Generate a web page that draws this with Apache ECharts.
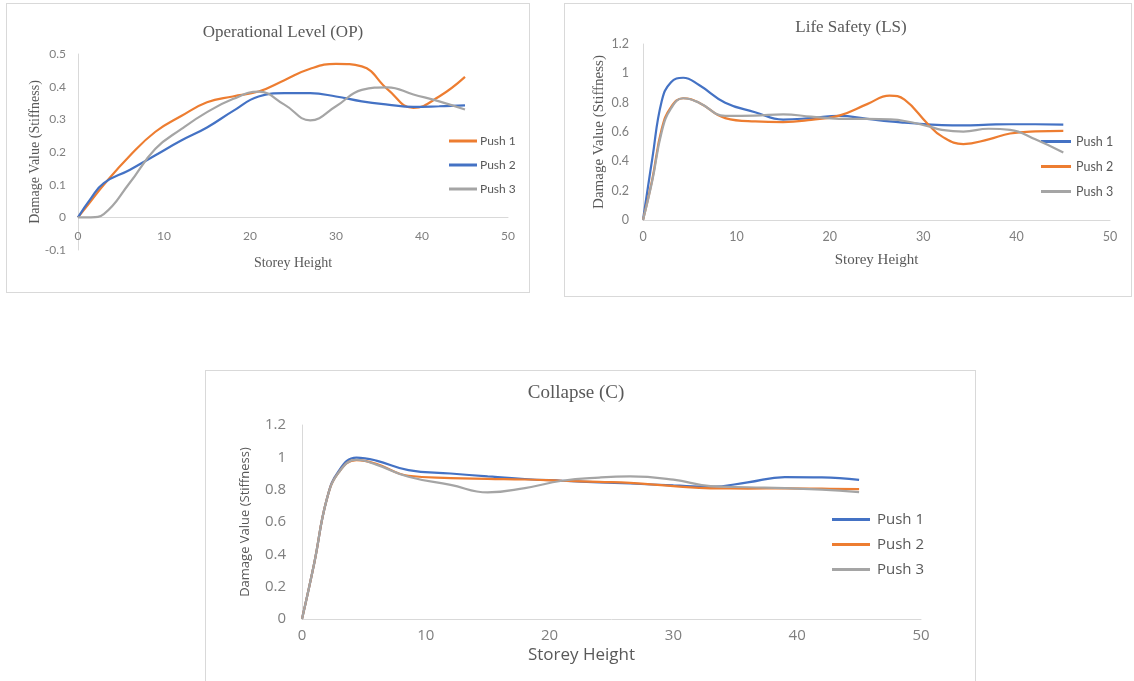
<!DOCTYPE html>
<html>
<head>
<meta charset="utf-8">
<script src="https://cdn.jsdelivr.net/npm/echarts@6/dist/echarts.min.js"></script>
<style>
  html, body { margin: 0; padding: 0; background: #ffffff; }
  body { width: 1134px; height: 681px; position: relative; overflow: hidden; }
  .panel { position: absolute; border: 1px solid #d9d9d9; background: #fff; box-sizing: border-box; }
</style>
</head>
<body>
<div id="op" class="panel" style="left:6px;top:3px;width:524px;height:290px;"></div>
<div id="ls" class="panel" style="left:564px;top:3px;width:568px;height:294px;"></div>
<div id="cl" class="panel" style="left:205px;top:370px;width:771px;height:330px;"></div>
<script>
// Storey heights (m) and damage values per pushover run
const seriesNames = ['Push 1', 'Push 2', 'Push 3'];

// Operational Level (OP)
const opHeight = [0, 1.5, 3, 6, 9, 12, 15, 18, 21, 24, 27, 30, 33, 36, 39, 42, 45];
const opPush1 = [0, 0.05, 0.1, 0.188, 0.262, 0.31, 0.352, 0.37, 0.385, 0.42, 0.455, 0.47, 0.462, 0.392, 0.335, 0.37, 0.43];
const opPush2 = [0, 0.058, 0.105, 0.145, 0.19, 0.235, 0.275, 0.325, 0.37, 0.38, 0.38, 0.37, 0.355, 0.345, 0.338, 0.34, 0.343];
const opPush3 = [0, 0, 0.01, 0.105, 0.21, 0.27, 0.322, 0.362, 0.385, 0.345, 0.297, 0.34, 0.39, 0.398, 0.376, 0.355, 0.33];

// Life Safety (LS)
const lsHeight = [0, 1, 2, 3, 4.3, 6, 8.8, 12, 15, 18, 21, 24, 26.4, 28, 30.5, 32, 34.3, 37, 39.3, 42, 45];
const lsPush1 = [0, 0.42, 0.81, 0.94, 0.97, 0.92, 0.8, 0.735, 0.685, 0.695, 0.71, 0.69, 0.672, 0.663, 0.652, 0.647, 0.645, 0.65, 0.653, 0.653, 0.65];
const lsPush2 = [0, 0.28, 0.62, 0.77, 0.83, 0.8, 0.695, 0.672, 0.668, 0.683, 0.712, 0.79, 0.848, 0.82, 0.655, 0.57, 0.518, 0.55, 0.59, 0.604, 0.607];
const lsPush3 = [0, 0.27, 0.6, 0.76, 0.83, 0.8, 0.71, 0.712, 0.72, 0.705, 0.69, 0.69, 0.686, 0.675, 0.64, 0.615, 0.603, 0.622, 0.615, 0.55, 0.46];

// Collapse (C)
const clHeight = [0, 1, 2, 3, 4.4, 6, 8.6, 12, 15, 18, 21, 24, 26.5, 30, 33, 36, 39, 42, 45];
const clPush1 = [0, 0.35, 0.74, 0.92, 0.998, 0.98, 0.921, 0.9, 0.882, 0.866, 0.855, 0.845, 0.838, 0.826, 0.818, 0.845, 0.878, 0.876, 0.86];
const clPush2 = [0, 0.35, 0.74, 0.91, 0.983, 0.96, 0.886, 0.872, 0.867, 0.863, 0.855, 0.848, 0.842, 0.822, 0.808, 0.807, 0.808, 0.806, 0.803];
const clPush3 = [0, 0.35, 0.74, 0.91, 0.985, 0.955, 0.88, 0.83, 0.783, 0.81, 0.855, 0.875, 0.882, 0.862, 0.822, 0.815, 0.81, 0.8, 0.785];

const ORANGE = '#ED7D31', BLUE = '#4472C4', GREY = '#A5A5A5';
const SERIF = '"Liberation Serif", "Times New Roman", serif';
const SANS = 'Lato, "Open Sans", "Liberation Sans", sans-serif';
const SANS_WIDE = '"Open Sans", Lato, "Liberation Sans", sans-serif';

function pairs(xs, ys) { return xs.map((x, i) => [x, ys[i]]); }

function buildChart(el, cfg) {
  const chart = echarts.init(document.getElementById(el), null, { renderer: 'canvas' });
  const axisLine = { show: true, lineStyle: { color: '#d9d9d9', width: 1 } };
  chart.setOption({
    animation: false,
    grid: Object.assign({ outerBoundsMode: 'none', containLabel: false }, cfg.grid),
    graphic: [{
      type: 'text', x: cfg.title.x, y: cfg.title.y,
      style: { text: cfg.title.text, font: cfg.title.font, fill: '#595959', textAlign: 'center', textVerticalAlign: 'middle' }
    }],
    legend: {
      orient: 'vertical', left: cfg.legend.left, top: cfg.legend.top, padding: 0,
      itemWidth: cfg.legend.itemWidth, itemHeight: 3, itemGap: cfg.legend.itemGap,
      icon: 'rect',
      textStyle: { fontFamily: cfg.sans, fontSize: cfg.legend.fontSize, color: '#595959', padding: [0, 0, 0, cfg.legend.textShift] },
      data: seriesNames
    },
    xAxis: {
      type: 'value', min: 0, max: 50, interval: 10,
      axisLine: Object.assign({ onZero: true }, axisLine),
      axisTick: { show: false }, splitLine: { show: false },
      axisLabel: { fontFamily: cfg.sans, fontSize: cfg.tickSize, color: '#7f7f7f', margin: cfg.xMargin },
      name: 'Storey Height', nameLocation: 'middle', nameGap: cfg.xNameGap, nameMoveOverlap: false,
      nameTextStyle: { fontFamily: cfg.nameFont, fontSize: cfg.xNameSize, color: '#595959', padding: cfg.xNamePad || 0 }
    },
    yAxis: {
      type: 'value', min: cfg.yMin, max: cfg.yMax, interval: cfg.yInterval,
      axisLine: axisLine, axisTick: { show: false }, splitLine: { show: false },
      axisLabel: { fontFamily: cfg.sans, fontSize: cfg.tickSize, color: '#7f7f7f', margin: cfg.yMargin },
      name: 'Damage Value (Stiffness)', nameLocation: 'middle', nameGap: cfg.yNameGap, nameRotate: 90,
      nameMoveOverlap: false,
      nameTextStyle: { fontFamily: cfg.nameFont, fontSize: cfg.yNameSize, color: '#595959' }
    },
    series: cfg.series.map(s => ({
      name: s.name, type: 'line', data: s.data, smooth: 0.45, symbol: 'none',
      lineStyle: { color: s.color, width: 2.2 }, itemStyle: { color: s.color }, z: s.z
    }))
  });
}

buildChart('op', {
  sans: SANS,
  grid: { left: 71, top: 50, width: 430, height: 196 },
  title: { text: 'Operational Level (OP)', x: 276, y: 29, font: '17px ' + SERIF },
  legend: { left: 442, top: 131, itemWidth: 28, itemGap: 12, fontSize: 12, textShift: -2 },
  tickSize: 12, xMargin: -20, yMargin: 12, xNameGap: 6, yNameGap: 36,
  nameFont: SERIF, xNameSize: 14, yNameSize: 14,
  yMin: -0.1, yMax: 0.5, yInterval: 0.1,
  series: [
    { name: 'Push 1', data: pairs(opHeight, opPush1), color: ORANGE, z: 2 },
    { name: 'Push 2', data: pairs(opHeight, opPush2), color: BLUE, z: 3 },
    { name: 'Push 3', data: pairs(opHeight, opPush3), color: GREY, z: 4 }
  ]
});

buildChart('ls', {
  sans: SANS,
  grid: { left: 78, top: 40, width: 467, height: 176 },
  title: { text: 'Life Safety (LS)', x: 286, y: 24, font: '17px ' + SERIF },
  legend: { left: 476, top: 131, itemWidth: 30, itemGap: 12, fontSize: 12.5, textShift: 0 },
  tickSize: 12.5, xMargin: 10, yMargin: 14, xNameGap: 33, yNameGap: 36,
  nameFont: SERIF, xNameSize: 15, yNameSize: 15,
  yMin: 0, yMax: 1.2, yInterval: 0.2,
  series: [
    { name: 'Push 1', data: pairs(lsHeight, lsPush1), color: BLUE, z: 2 },
    { name: 'Push 2', data: pairs(lsHeight, lsPush2), color: ORANGE, z: 3 },
    { name: 'Push 3', data: pairs(lsHeight, lsPush3), color: GREY, z: 4 }
  ]
});

buildChart('cl', {
  sans: SANS_WIDE,
  grid: { left: 96, top: 54, width: 619, height: 194 },
  title: { text: 'Collapse (C)', x: 370, y: 22, font: '19px ' + SERIF },
  legend: { left: 626, top: 141, itemWidth: 38, itemGap: 10, fontSize: 15, textShift: 2 },
  tickSize: 15, xMargin: 9, yMargin: 16, xNameGap: 28, yNameGap: 50,
  nameFont: SANS_WIDE, xNameSize: 17, yNameSize: 13, xNamePad: [0, 60, 0, 0],
  yMin: 0, yMax: 1.2, yInterval: 0.2,
  series: [
    { name: 'Push 1', data: pairs(clHeight, clPush1), color: BLUE, z: 2 },
    { name: 'Push 2', data: pairs(clHeight, clPush2), color: ORANGE, z: 3 },
    { name: 'Push 3', data: pairs(clHeight, clPush3), color: GREY, z: 4 }
  ]
});
</script>
</body>
</html>
